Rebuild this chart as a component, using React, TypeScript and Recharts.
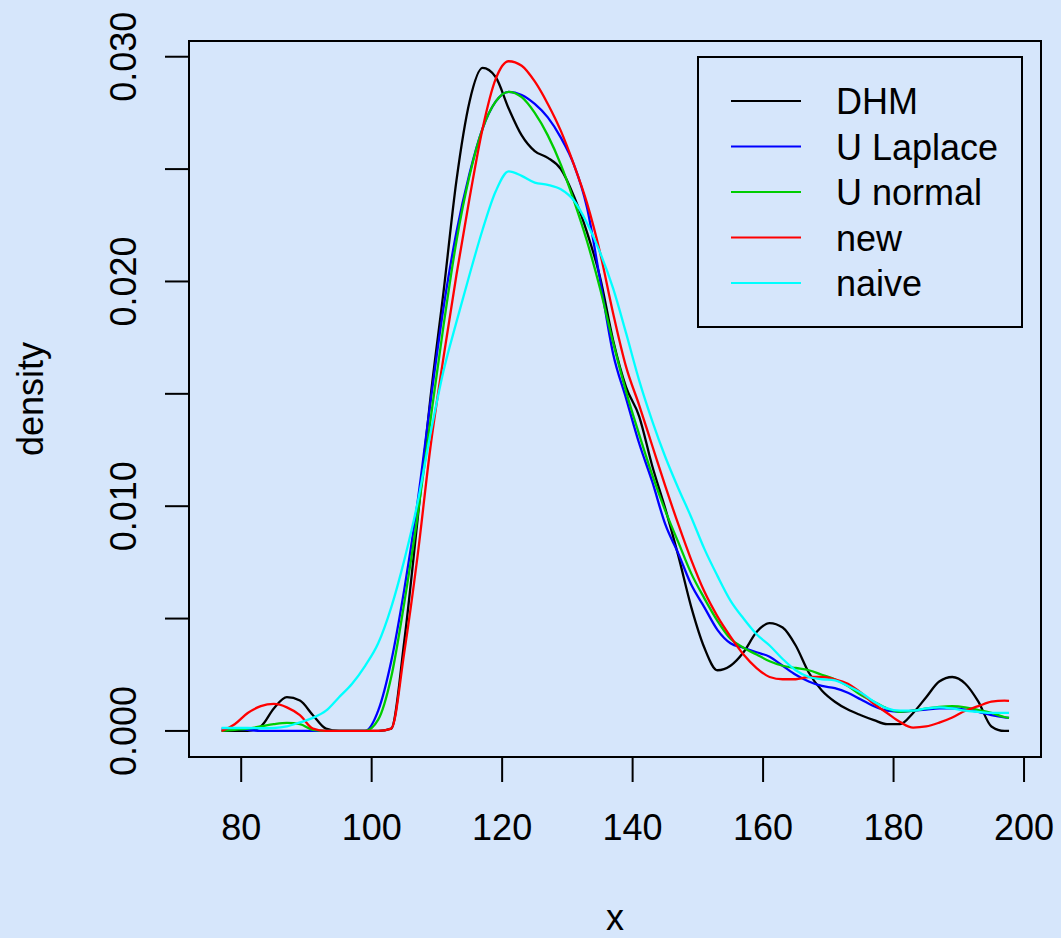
import React from "react";
import { LineChart, Line, XAxis, YAxis, ReferenceArea } from "recharts";

// x grid (shared by all five density estimates)
const xs = [
  77, 79, 81, 83, 85, 87, 89, 91, 93, 95,
  97, 99, 101, 103, 105, 107, 109, 111, 113, 115,
  117, 119, 121, 123, 125, 127, 129, 131, 133, 135,
  137, 139, 141, 143, 145, 147, 149, 151, 153, 155,
  157, 159, 161, 163, 165, 167, 169, 171, 173, 175,
  177, 179, 181, 183, 185, 187, 189, 191, 193, 195,
  197, 197.7,
];

const dhm = [
  0, 0, 0, 0.0002, 0.001, 0.0015, 0.00135, 0.0007, 0.0001, 0,
  0, 0, 0, 0.0001, 0.004, 0.0093, 0.0148, 0.0195, 0.0245, 0.028,
  0.0295, 0.0291, 0.0277, 0.0265, 0.0258, 0.0255, 0.025, 0.0238, 0.0222, 0.0202,
  0.0174, 0.0153, 0.014, 0.0118, 0.0099, 0.0078, 0.0055, 0.0037, 0.0027, 0.0029,
  0.0035, 0.0044, 0.0048, 0.0046, 0.0038, 0.0026, 0.0018, 0.0013, 0.00095, 0.0007,
  0.00048, 0.0003, 0.0003, 0.0008, 0.0015, 0.0022, 0.0024, 0.0021, 0.0013, 0.0002,
  0, 0,
];

const uLaplace = [
  0.0001, 0.0001, 0.00005, 0, 0, 0, 0, 0, 0, 0,
  0, 0, 0.0009, 0.0031, 0.0063, 0.0101, 0.0146, 0.0188, 0.0222, 0.0248,
  0.0268, 0.028, 0.02844, 0.0283, 0.0279, 0.0273, 0.0264, 0.0252, 0.0233, 0.0201,
  0.0168, 0.0148, 0.0128, 0.0111, 0.0092, 0.0079, 0.0065, 0.0055, 0.0045, 0.0039,
  0.0037, 0.0035, 0.0033, 0.0029, 0.0025, 0.0022, 0.002, 0.0019, 0.0017, 0.0014,
  0.0011, 0.0009, 0.00085, 0.0009, 0.00095, 0.001, 0.001, 0.00095, 0.00085, 0.0007,
  0.0006, 0.00058,
];

const uNormal = [
  0, 0.00005, 0.0001, 0.0002, 0.0003, 0.00036, 0.0003, 0.00005, 0, 0,
  0, 0, 0.0005, 0.0024, 0.0057, 0.0095, 0.0138, 0.018, 0.0218, 0.0247,
  0.0268, 0.028, 0.02844, 0.0282, 0.0275, 0.0265, 0.0252, 0.0236, 0.0218, 0.0197,
  0.0173, 0.0151, 0.0132, 0.0114, 0.0098, 0.0084, 0.007, 0.0059, 0.0049, 0.0041,
  0.0037, 0.0034, 0.0031, 0.0029, 0.0028, 0.0027, 0.0025, 0.0023, 0.002, 0.0016,
  0.0013, 0.001, 0.00085, 0.0009, 0.001, 0.00107, 0.0011, 0.00105, 0.00093, 0.0008,
  0.00062, 0.00058,
];

const newEst = [
  0, 0.0003, 0.0008, 0.0011, 0.0012, 0.00105, 0.0007, 0.0001, 0, 0,
  0, 0, 0, 0.0001, 0.0035, 0.0077, 0.0126, 0.0166, 0.0203, 0.0237,
  0.0268, 0.029, 0.0298, 0.0296, 0.0289, 0.0279, 0.0267, 0.0252, 0.0235, 0.0213,
  0.0186, 0.0162, 0.0145, 0.0127, 0.0109, 0.0092, 0.0076, 0.0062, 0.0051, 0.0042,
  0.0034, 0.0028, 0.0024, 0.0023, 0.0023, 0.0024, 0.0024, 0.0023, 0.0021, 0.0017,
  0.0012, 0.0008, 0.0004, 0.00015, 0.0002, 0.00037, 0.0006, 0.0009, 0.0011, 0.0013,
  0.00135, 0.00134,
];

const naive = [
  0.00013, 0.00013, 0.00013, 0.00012, 0.00013, 0.0002, 0.00038, 0.00058, 0.0009, 0.0015,
  0.0021, 0.0029, 0.0039, 0.0055, 0.0076, 0.0101, 0.0132, 0.016, 0.0182, 0.0203,
  0.0223, 0.024, 0.0249, 0.0247, 0.0244, 0.0243, 0.0241, 0.0236, 0.0226, 0.0213,
  0.0197, 0.0177, 0.0156, 0.0138, 0.0122, 0.0108, 0.0095, 0.0081, 0.0069, 0.0058,
  0.005, 0.0043, 0.0038, 0.0032, 0.0027, 0.0024, 0.0023, 0.00225, 0.002, 0.0017,
  0.0013, 0.001, 0.0009, 0.0009, 0.001, 0.00105, 0.001, 0.0009, 0.00085, 0.0008,
  0.0008, 0.0008,
];

const series = [
  { key: "dhm", name: "DHM", color: "#000000", values: dhm },
  { key: "uLaplace", name: "U Laplace", color: "#0000ff", values: uLaplace },
  { key: "uNormal", name: "U normal", color: "#00cd00", values: uNormal },
  { key: "newEst", name: "new", color: "#ff0000", values: newEst },
  { key: "naive", name: "naive", color: "#00ffff", values: naive },
];

const xTicks = [80, 100, 120, 140, 160, 180, 200];
const yTicks = [0, 0.005, 0.01, 0.015, 0.02, 0.025, 0.03];
const yTickLabels = ["0.000", "", "0.010", "", "0.020", "", "0.030"];

const data = xs.map((x, i) => {
  const row: Record<string, number> = { x };
  series.forEach((s) => (row[s.key] = s.values[i]));
  return row;
});

const FONT = "'Liberation Sans', Arial, Helvetica, sans-serif";
const BG = "#d6e6fb";

// layout
const W = 1061;
const H = 938;
const plotLeft = 189;
const plotTop = 41;
const plotBottom = 757;
const plotRight = 1041;

const xDomain: [number, number] = [72, 202.6];
const yDomain: [number, number] = [-0.00116, 0.0307];

const XTick = (props: any) => (
  <text x={props.x} y={840} textAnchor="middle" fontSize={36} fill="#000" fontFamily={FONT}>
    {props.payload.value}
  </text>
);

const YTick = (props: any) => {
  const label = yTickLabels[props.index];
  if (!label) return <g />;
  const bx = 136;
  return (
    <text
      x={bx}
      y={props.y}
      transform={`rotate(-90 ${bx} ${props.y})`}
      textAnchor="middle"
      fontSize={36}
      fill="#000"
      fontFamily={FONT}
    >
      {label}
    </text>
  );
};

// legend drawn as an overlay so it takes no room from the plot
const LegendBox = () => {
  const rows = [45, 90.5, 136, 181.5, 227];
  return (
    <svg
      width={326}
      height={272}
      style={{ position: "absolute", left: 697, top: 56, display: "block" }}
    >
      <rect x={1} y={1} width={324} height={270} fill={BG} stroke="#000" strokeWidth={2} />
      {series.map((s, i) => (
        <g key={s.key}>
          <line x1={34} x2={104} y1={rows[i]} y2={rows[i]} stroke={s.color} strokeWidth={2} />
          <text x={139} y={rows[i] + 13} fontSize={36} fill="#000" fontFamily={FONT}>
            {s.name}
          </text>
        </g>
      ))}
    </svg>
  );
};

export default function App() {
  return (
    <div
      style={{
        position: "absolute",
        left: 0,
        top: 0,
        width: W,
        height: H,
        background: BG,
        fontFamily: FONT,
      }}
    >
      <LineChart
        width={W}
        height={H}
        data={data}
        margin={{ top: plotTop, right: W - plotRight, left: 0, bottom: 0 }}
      >
        <XAxis
          dataKey="x"
          type="number"
          domain={xDomain}
          allowDataOverflow
          ticks={xTicks}
          interval={0}
          axisLine={false}
          tickLine={{ stroke: "#000", strokeWidth: 2 }}
          tickSize={25}
          height={H - plotBottom}
          tick={XTick}
          label={{
            content: () => (
              <text
                x={(plotLeft + plotRight) / 2}
                y={930}
                textAnchor="middle"
                fontSize={36}
                fill="#000"
                fontFamily={FONT}
              >
                x
              </text>
            ),
          }}
        />
        <YAxis
          type="number"
          domain={yDomain}
          allowDataOverflow
          ticks={yTicks}
          interval={0}
          axisLine={false}
          tickLine={{ stroke: "#000", strokeWidth: 2 }}
          tickSize={24}
          width={plotLeft}
          tick={YTick}
          label={{
            content: () => {
              const cy = (plotTop + plotBottom) / 2;
              return (
                <text
                  x={43}
                  y={cy}
                  transform={`rotate(-90 43 ${cy})`}
                  textAnchor="middle"
                  fontSize={36}
                  fill="#000"
                  fontFamily={FONT}
                >
                  density
                </text>
              );
            },
          }}
        />
        <ReferenceArea
          x1={xDomain[0]}
          x2={xDomain[1]}
          y1={yDomain[0]}
          y2={yDomain[1]}
          fill="none"
          fillOpacity={0}
          stroke="#000"
          strokeWidth={2}
          ifOverflow="visible"
        />
        {series.map((s) => (
          <Line
            key={s.key}
            dataKey={s.key}
            name={s.name}
            type="monotone"
            stroke={s.color}
            strokeWidth={2.3}
            dot={false}
            activeDot={false}
            isAnimationActive={false}
          />
        ))}
      </LineChart>
      <LegendBox />
    </div>
  );
}
